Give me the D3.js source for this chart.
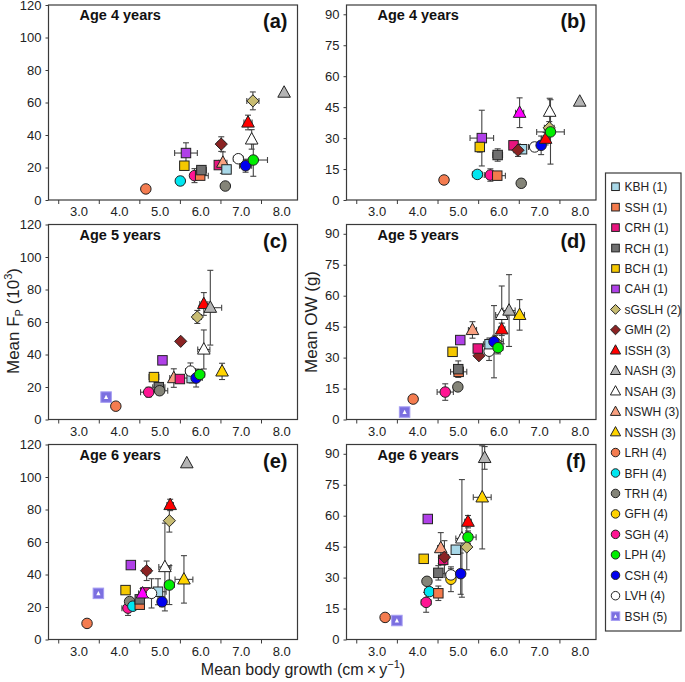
<!DOCTYPE html>
<html><head><meta charset="utf-8">
<script src="https://cdn.jsdelivr.net/npm/d3@7"></script>
<style>
body{margin:0;background:#fff;}
svg{font-family:"Liberation Sans",Arial,sans-serif;}
</style></head>
<body><svg id="c" width="685" height="682"></svg>
<script>
// ---------- data ----------
const legendSpecies = ["KBH","SSH","CRH","RCH","BCH","CAH","sGSLH","GMH","ISSH","NASH","NSAH","NSWH","NSSH","LRH","BFH","TRH","GFH","SGH","LPH","CSH","LVH","BSH"];
const legendLabels = ["KBH (1)","SSH (1)","CRH (1)","RCH (1)","BCH (1)","CAH (1)","sGSLH (2)","GMH (2)","ISSH (3)","NASH (3)","NSAH (3)","NSWH (3)","NSSH (3)","LRH (4)","BFH (4)","TRH (4)","GFH (4)","SGH (4)","LPH (4)","CSH (4)","LVH (4)","BSH (5)"];
const speciesShape = {KBH:"square",SSH:"square",CRH:"square",RCH:"square",BCH:"square",CAH:"square",sGSLH:"diamond",GMH:"diamond",ISSH:"triangle",NASH:"triangle",NSAH:"triangle",NSWH:"triangle",NSSH:"triangle",NSWHm:"triangle",LRH:"circle",BFH:"circle",TRH:"circle",GFH:"circle",SGH:"circle",LPH:"circle",CSH:"circle",LVH:"circle",BSH:"bsh"};
const speciesFill = {KBH:"#a8d8e8",SSH:"#f47a4c",CRH:"#e8157e",RCH:"#707070",BCH:"#f5c800",CAH:"#b040e8",sGSLH:"#c8bc72",GMH:"#8b2323",ISSH:"#ff0000",NASH:"#b4b4b4",NSAH:"#ffffff",NSWH:"#f8a080",NSSH:"#ffd400",NSWHm:"#ff00ff",LRH:"#f47c50",BFH:"#00e6f0",TRH:"#848478",GFH:"#ffd200",SGH:"#ff1493",LPH:"#00ee00",CSH:"#0000ee",LVH:"#ffffff",BSH:"#7b6fe0"};

// [species, growth, value, growth error, value error]
const age4Fp = [
 ["LRH",4.66,6.8,0,0],["BFH",5.51,11.7,0.05,2.5],["SGH",5.86,15.0,0.1,4.3],["CAH",5.65,28.9,0.28,6.3],
 ["BCH",5.61,21.1,0.1,2],["SSH",6.0,15.0,0.2,2],["RCH",6.03,18.4,0.12,2.5],["CRH",6.46,21.5,0.08,2],
 ["GMH",6.52,34.4,0.08,4.5],["NSWH",6.56,23.0,0.1,6.6],["KBH",6.65,18.8,0.1,2.5],["TRH",6.62,8.6,0.08,1.5],
 ["LVH",6.94,25.4,0.12,2],["CSH",7.12,21.1,0.15,4],["NSAH",7.27,37.3,0.05,6],["LPH",7.31,24.6,0.35,10],
 ["ISSH",7.18,47.7,0.1,4.5],["sGSLH",7.30,61.0,0.15,5.5],["NASH",8.07,66.1,0,0]
];
const age4Ow = [
 ["LRH",4.66,9.7,0,0],["BFH",5.48,12.4,0.12,1.5],["SGH",5.80,12.1,0.15,3],["SSH",5.97,11.8,0.2,2],
 ["CAH",5.59,30.0,0.29,13.5],["BCH",5.54,25.7,0.08,2.5],["RCH",5.98,21.8,0.12,3],["TRH",6.56,8.1,0.08,2],
 ["CRH",6.37,26.5,0.1,2],["KBH",6.58,24.6,0.1,2],["GMH",6.48,24.1,0.1,3],["NSWHm",6.52,42.3,0.1,7.2],
 ["LVH",6.89,25.7,0.15,2],["CSH",7.05,26.5,0.1,4.5],["NSAH",7.26,42.8,0.05,6.5],["ISSH",7.16,29.7,0.1,3],
 ["sGSLH",7.25,35.0,0.12,3],["LPH",7.28,33.0,0.34,15.6],["NASH",8.0,47.7,0,0]
];
const age5Fp = [
 ["BSH",3.68,13.8,0,0],["LRH",3.92,8.2,0.05,1.5],["SGH",4.73,16.8,0.2,3],["RCH",4.98,19.9,0.15,2],
 ["TRH",5.0,17.7,0.2,2],["BCH",4.86,26.1,0.12,2],["CAH",5.07,36.4,0,0],["NSWH",5.35,25.5,0.1,5.7],
 ["CRH",5.5,24.9,0.08,2],["GMH",5.52,48.1,0,0],["KBH",5.79,25.5,0.2,3],["LVH",5.76,29.8,0.12,5],
 ["CSH",5.9,25.5,0.15,5.5],["LPH",5.99,27.7,0.12,3],["sGSLH",5.93,63.1,0.1,4],["NSAH",6.09,43.1,0.15,12],
 ["ISSH",6.09,71.1,0.1,7],["NASH",6.25,68.8,0.28,23],["NSSH",6.54,29.6,0.06,5]
];
const age5Ow = [
 ["BSH",3.69,3.6,0,0],["LRH",3.90,9.9,0.05,1],["SGH",4.69,13.3,0.2,4],["TRH",5.0,15.8,0.08,1.5],
 ["SSH",5.02,23.1,0.2,2],["RCH",5.01,24.4,0.1,4],["BCH",4.87,32.8,0.1,2],["CAH",5.06,38.5,0,0],
 ["NSWH",5.36,43.4,0.1,4],["GMH",5.52,30.9,0,0],["CRH",5.49,34.4,0,0],["LVH",5.77,33.1,0.12,4.5],
 ["KBH",5.78,36.5,0.15,3],["sGSLH",5.92,37.8,0.2,3],["CSH",5.89,37.7,0.12,17.5],["LPH",5.99,34.8,0.12,3],
 ["ISSH",6.08,43.7,0.08,3],["NSAH",6.08,50.7,0.15,14],["NASH",6.26,52.8,0.15,17.4],["NSSH",6.52,50.7,0.12,7.4]
];
const age6Fp = [
 ["LRH",3.21,9.9,0,0],["BSH",3.49,28.4,0,0],["BCH",4.16,30.4,0,0],["CAH",4.29,45.8,0,0],
 ["SGH",4.22,19.3,0.15,4.5],["TRH",4.26,23.4,0.1,2],["BFH",4.34,20.5,0.1,2],["SSH",4.51,21.4,0.08,2],
 ["RCH",4.51,24.7,0.1,3],["CRH",4.65,29.0,0.1,2],["NSWHm",4.58,28.4,0.1,3],["GMH",4.68,42.3,0.1,6],
 ["KBH",4.96,29.4,0.2,8],["LVH",4.8,28.4,0.15,9],["CSH",5.06,23.2,0.08,3],["NSAH",5.13,44.6,0.15,27],
 ["LPH",5.24,33.5,0.12,12],["sGSLH",5.24,73.1,0.08,7],["ISSH",5.26,82.8,0.08,3.5],["NSSH",5.6,37.0,0.22,14.6],
 ["NASH",5.67,108.5,0,0]
];
const age6Ow = [
 ["LRH",3.21,10.7,0,0],["BSH",3.50,9.2,0,0],["SGH",4.22,18.0,0.12,4.8],["BFH",4.30,23.2,0.12,2],
 ["TRH",4.24,28.2,0.05,1.5],["SSH",4.52,22.4,0.08,3.5],["RCH",4.52,32.3,0.1,3.5],["BCH",4.16,39.1,0,0],
 ["CAH",4.26,58.4,0,0],["NSWH",4.58,44.3,0.08,7.5],["CRH",4.64,38.6,0.08,2.5],["GMH",4.67,39.9,0.1,8],
 ["GFH",4.83,29.2,0.08,6],["LVH",4.83,31.3,0.15,3],["KBH",4.95,43.5,0,0],["CSH",5.07,31.9,0.1,10],
 ["NSAH",5.1,49.0,0.15,28.5],["sGSLH",5.22,44.8,0.08,11],["LPH",5.25,49.6,0.2,3],["ISSH",5.25,57.1,0.08,3],
 ["NSSH",5.6,68.9,0.22,25],["NASH",5.66,88.0,0,5.5]
];

const growthLabels = ["3.0","4.0","5.0","6.0","7.0","8.0"];
const growthMinorTicks = [2.5,3.5,4.5,5.5,6.5,7.5];
const fpTicks = [0,20,40,60,80,100,120];
const owTicks = [0,15,30,45,60,75,90];
const ageTitles = ["Age 4 years","Age 5 years","Age 6 years"];
const panelLetters = ["(a)","(b)","(c)","(d)","(e)","(f)"];

// ---------- drawing ----------
const svg = d3.select("#c");
const ink = "#3a3a3a";
const panelH = 195;
const tops = [5, 224.5, 444.5];
const lefts = [48.5, 346.5];
const widths = [249, 249.5];

function marker(g, sp, size){
  const shape = speciesShape[sp], fill = speciesFill[sp];
  const s = size;
  if(shape==="circle"){
    g.append("circle").attr("r", s*0.5).attr("fill",fill).attr("stroke","#222").attr("stroke-width",1);
  } else if(shape==="square"){
    g.append("rect").attr("x",-s*0.45).attr("y",-s*0.45).attr("width",s*0.9).attr("height",s*0.9)
      .attr("fill",fill).attr("stroke","#222").attr("stroke-width",1);
  } else if(shape==="diamond"){
    const r = s*0.58;
    g.append("path").attr("d",`M0,${-r}L${r},0L0,${r}L${-r},0Z`).attr("fill",fill).attr("stroke","#222").attr("stroke-width",1);
  } else if(shape==="triangle"){
    const h=s*1.05, w=s*1.2;
    g.append("path").attr("d",`M0,${-h*0.62}L${w/2},${h*0.42}L${-w/2},${h*0.42}Z`).attr("fill",fill).attr("stroke","#222").attr("stroke-width",1);
  } else if(shape==="bsh"){
    g.append("rect").attr("x",-s*0.5).attr("y",-s*0.5).attr("width",s).attr("height",s)
      .attr("fill",fill).attr("stroke","#a59cf2").attr("stroke-width",1);
    g.append("path").attr("d",`M0,${-s*0.22}L${s*0.2},${s*0.18}L${-s*0.2},${s*0.18}Z`).attr("fill","#fff");
  }
}

function panel(idx, data, isOw){
  const row = Math.floor(idx/2), col = idx%2;
  const x0 = lefts[col], y0 = tops[row], w = widths[col];
  const x = d3.scaleLinear().domain([2.26, 8.40]).range([x0, x0+w]);
  const y = d3.scaleLinear().domain(isOw ? [0, 94.5] : [0, 120]).range([y0+panelH, y0]);
  const g = svg.append("g");

  // frame
  g.append("rect").attr("x",x0).attr("y",y0).attr("width",w).attr("height",panelH)
    .attr("fill","none").attr("stroke",ink).attr("stroke-width",1.2);

  // x axis: minor ticks at halves, labels at integers
  const ax1 = g.append("g").attr("transform",`translate(0,${y0+panelH})`)
    .call(d3.axisBottom(x).tickValues(growthMinorTicks).tickSize(4).tickFormat(""));
  ax1.select(".domain").remove();
  ax1.selectAll("line").attr("stroke",ink);
  const ax2 = g.append("g").attr("transform",`translate(0,${y0+panelH})`)
    .call(d3.axisBottom(x).tickValues(growthLabels.map(Number)).tickSize(0).tickPadding(7).tickFormat((d,i)=>growthLabels[i]));
  ax2.select(".domain").remove();
  ax2.selectAll("text").attr("font-size",13).attr("fill","#222").style("font-family","Liberation Sans, Arial, sans-serif");

  // y axis
  const ay = g.append("g").attr("transform",`translate(${x0},0)`)
    .call(d3.axisLeft(y).tickValues(isOw?owTicks:fpTicks).tickSize(3).tickPadding(4));
  ay.select(".domain").remove();
  ay.selectAll("line").attr("stroke",ink);
  ay.selectAll("text").attr("font-size",13).attr("fill","#222").style("font-family","Liberation Sans, Arial, sans-serif");

  // titles
  g.append("text").attr("x",x0+31).attr("y",y0+15).attr("font-size",14.5).attr("font-weight","bold").attr("fill","#111").text(ageTitles[row]);
  g.append("text").attr("x",x0+w-10).attr("y",y0+23).attr("text-anchor","end").attr("font-size",20).attr("font-weight","bold").attr("fill","#111").text(panelLetters[idx]);

  // error bars
  const cap = 3;
  const eb = g.append("g").attr("stroke","#444").attr("stroke-width",1.1).attr("fill","none");
  data.forEach(d=>{
    const [sp,gx,v,ex,ey] = d;
    if(ey>0){
      eb.append("line").attr("x1",x(gx)).attr("x2",x(gx)).attr("y1",y(v-ey)).attr("y2",y(v+ey));
      [v-ey,v+ey].forEach(t=>eb.append("line").attr("x1",x(gx)-cap).attr("x2",x(gx)+cap).attr("y1",y(t)).attr("y2",y(t)));
    }
    if(ex>0){
      eb.append("line").attr("x1",x(gx-ex)).attr("x2",x(gx+ex)).attr("y1",y(v)).attr("y2",y(v));
      [gx-ex,gx+ex].forEach(t=>eb.append("line").attr("x1",x(t)).attr("x2",x(t)).attr("y1",y(v)-cap).attr("y2",y(v)+cap));
    }
  });
  // markers
  data.forEach(d=>{
    const m = g.append("g").attr("transform",`translate(${x(d[1])},${y(d[2])})`);
    marker(m, d[0], 10.5);
  });
}

panel(0, age4Fp, false);
panel(1, age4Ow, true);
panel(2, age5Fp, false);
panel(3, age5Ow, true);
panel(4, age6Fp, false);
panel(5, age6Ow, true);

// axis titles
const yt1 = svg.append("text").attr("transform","translate(19,321) rotate(-90)").attr("text-anchor","middle").attr("font-size",17).attr("fill","#222");
yt1.append("tspan").text("Mean F");
yt1.append("tspan").attr("font-size",11).attr("dy",4).text("P");
yt1.append("tspan").attr("dy",-4).text(" (10");
yt1.append("tspan").attr("font-size",11).attr("dy",-7).text("3");
yt1.append("tspan").attr("dy",7).text(")");
svg.append("text").attr("transform","translate(317,322) rotate(-90)").attr("text-anchor","middle").attr("font-size",17).attr("fill","#222").text("Mean OW (g)");
const xt = svg.append("text").attr("x",303).attr("y",675).attr("text-anchor","middle").attr("font-size",16).attr("fill","#222");
xt.append("tspan").text("Mean body growth (cm\u2009\u00d7\u2009y");
xt.append("tspan").attr("font-size",11).attr("dy",-7).text("\u22121");
xt.append("tspan").attr("dy",7).text(")");

// legend
const lg = svg.append("g");
lg.append("rect").attr("x",605.5).attr("y",173).attr("width",75.5).attr("height",458).attr("fill","#fff").attr("stroke",ink).attr("stroke-width",1.2);
legendSpecies.forEach((sp,i)=>{
  const cy = 186.7 + i*20.45;
  const m = lg.append("g").attr("transform",`translate(615.5,${cy})`);
  marker(m, sp, 8.5);
  lg.append("text").attr("x",624.5).attr("y",cy+4.5).attr("font-size",12).attr("fill","#222").text(legendLabels[i]);
});
</script></body></html>
